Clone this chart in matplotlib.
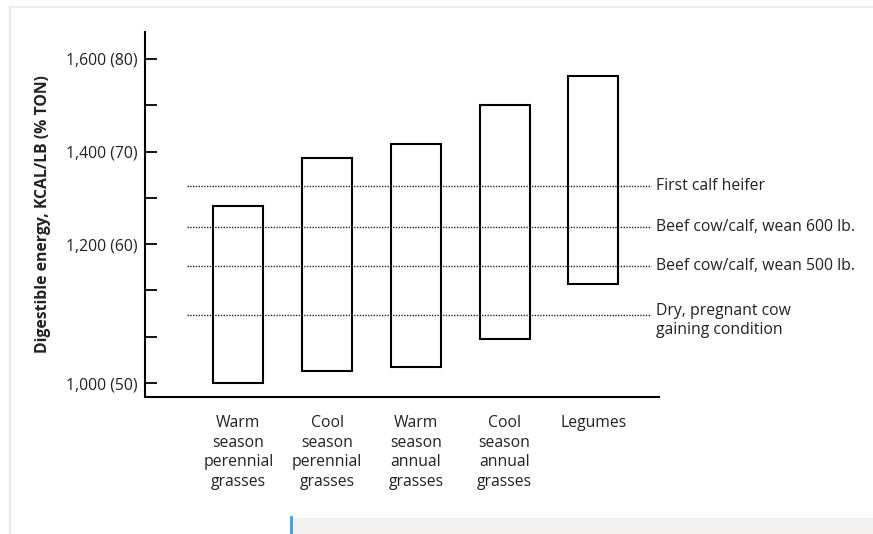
import numpy as np
import matplotlib.pyplot as plt
from matplotlib.patches import Rectangle
from matplotlib.lines import Line2D

plt.rcParams['font.family'] = ['Open Sans', 'DejaVu Sans']

# Datos: rangos de energía digestible por tipo de forraje (kcal/lb)
categorias = ['Warm\nseason\nperennial\ngrasses', 'Cool\nseason\nperennial\ngrasses',
              'Warm\nseason\nannual\ngrasses', 'Cool\nseason\nannual\ngrasses', 'Legumes']
minimos = [1000, 1018, 1023, 1064, 1142]
maximos = [1283, 1387, 1416, 1500, 1562]

# Requerimientos (líneas punteadas)
requerimientos = [1326, 1238, 1168, 1098]
etiquetas_req = ['First calf heifer', 'Beef cow/calf, wean 600 lb.',
                 'Beef cow/calf, wean 500 lb.', 'Dry, pregnant cow\ngaining condition']

valores_ticks = [1000, 1200, 1400, 1600]
etiquetas_ticks = ['1,000 (50)', '1,200 (60)', '1,400 (70)', '1,600 (80)']

FS = 11.3
COLOR_TXT = '#222222'


# Eje con corte: por debajo de 1200, 200 kcal ocupan 3 marcas; arriba, 100 kcal por marca
def adelante(v):
    v = np.asarray(v, dtype=float)
    return np.where(v >= 1200, 3 + (v - 1200) / 100, (v - 1000) * 3 / 200)


def inversa(t):
    t = np.asarray(t, dtype=float)
    return np.where(t >= 3, 1200 + (t - 3) * 100, 1000 + t * 200 / 3)


fig = plt.figure(figsize=(8.73, 5.34), dpi=100)
ax = fig.add_axes([0.1661, 0.2566, 0.5888, 0.6834])
ax.set_yscale('function', functions=(adelante, inversa))

x = np.arange(len(categorias))
alturas = np.array(maximos) - np.array(minimos)
ax.bar(x, alturas, bottom=minimos, width=0.563, facecolor='white',
       edgecolor='black', linewidth=1.5, zorder=2)

for y, txt in zip(requerimientos, etiquetas_req):
    ax.plot([-0.575, 4.65], [y, y], linestyle=(0, (1, 1)), color=COLOR_TXT,
            linewidth=1.0, zorder=3)
    if '\n' in txt:
        ax.annotate(txt, (4.706, y), xytext=(0, 9), textcoords='offset points',
                    va='top', ha='left', fontsize=FS, color=COLOR_TXT,
                    linespacing=1.3, annotation_clip=False)
    else:
        ax.text(4.706, y, txt, va='center', ha='left', fontsize=FS,
                color=COLOR_TXT, clip_on=False)

ax.set_xlim(-1.051, 4.74)
ax.set_ylim(980, 1658)

# Marcas del eje y
ax.set_yticks(inversa(np.arange(8)))
etiquetas_y = [''] * 8
for v, lab in zip(valores_ticks, etiquetas_ticks):
    etiquetas_y[int(round(float(adelante(v))))] = lab
ax.set_yticklabels(etiquetas_y)
ax.tick_params(axis='y', direction='in', length=8.6, width=1.3, pad=5.5,
               labelsize=FS, labelcolor=COLOR_TXT)

ax.set_xticks(x)
ax.set_xticklabels(categorias, fontsize=FS, color=COLOR_TXT, linespacing=1.3)
ax.tick_params(axis='x', length=0, pad=13)

for lado in ['top', 'right']:
    ax.spines[lado].set_visible(False)
ax.spines['left'].set_linewidth(1.5)
ax.spines['bottom'].set_linewidth(1.5)

ax.set_ylabel('Digestible energy, KCAL/LB (% TON)', fontsize=FS,
              fontweight='bold', color=COLOR_TXT)
ax.yaxis.set_label_coords(-0.182, 0.5)

# Bordes de la página original
fig.add_artist(Line2D([10 / 873, 1], [1 - 7 / 534] * 2, color='#ececec', linewidth=1.5))
fig.add_artist(Line2D([10 / 873] * 2, [0, 1 - 7 / 534], color='#ececec', linewidth=1.5))
fig.add_artist(Rectangle((290 / 873, 0), 583 / 873, 16 / 534, facecolor='#f2f1f0',
                         edgecolor='none'))
fig.add_artist(Line2D([291 / 873] * 2, [0, 17 / 534], color='#3d9be9', linewidth=2))

fig.savefig('out.png', dpi=100)
